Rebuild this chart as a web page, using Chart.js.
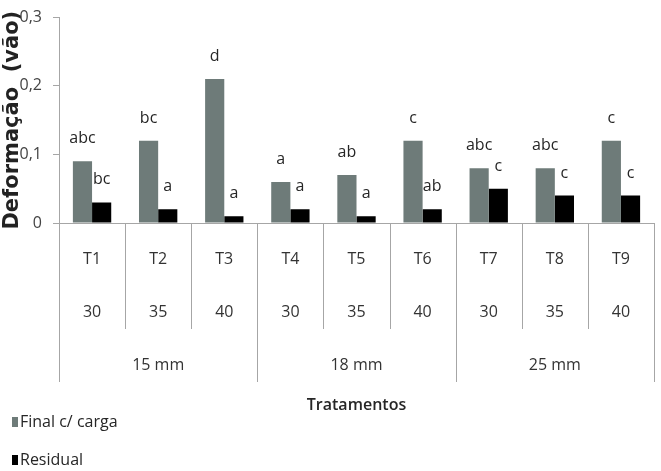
<!DOCTYPE html>
<html>
<head>
<meta charset="utf-8">
<script src="https://cdn.jsdelivr.net/npm/chart.js@4.4.1/dist/chart.umd.min.js"></script>
<style>
  html, body { margin: 0; padding: 0; background: #fff; }
</style>
</head>
<body>
<canvas id="chart" width="661" height="471"></canvas>
<script>
const treatments = ["T1", "T2", "T3", "T4", "T5", "T6", "T7", "T8", "T9"];
const spans = ["30", "35", "40", "30", "35", "40", "30", "35", "40"];
const sizes = ["", "15 mm", "", "", "18 mm", "", "", "25 mm", ""];
const groupStarts = [0, 3, 6, 9];

const finalLoad = [0.09, 0.12, 0.21, 0.06, 0.07, 0.12, 0.08, 0.08, 0.12];
const residual = [0.03, 0.02, 0.01, 0.02, 0.01, 0.02, 0.05, 0.04, 0.04];
const finalLetters = ["abc", "bc", "d", "a", "ab", "c", "abc", "abc", "c"];
const residualLetters = ["bc", "a", "a", "a", "a", "ab", "c", "c", "c"];

const FONT = "'Open Sans', 'Noto Sans', sans-serif";
const LINE = "#a6a6a6";

// table lines under the axis, letters over bars, legend at bottom-left
const extras = {
  id: "extras",
  afterDraw(chart) {
    const ctx = chart.ctx;
    const xs = chart.scales.x;
    ctx.save();

    ctx.strokeStyle = LINE;
    ctx.lineWidth = 1;
    for (let i = 0; i <= treatments.length; i++) {
      const px = Math.round(xs.getPixelForValue(i - 0.5)) + 0.5;
      const len = groupStarts.includes(i) ? 159 : 106;
      ctx.beginPath();
      ctx.moveTo(px, xs.top);
      ctx.lineTo(px, xs.top + len);
      ctx.stroke();
    }

    ctx.font = "16px " + FONT;
    ctx.fillStyle = "#262626";
    ctx.textAlign = "center";
    ctx.textBaseline = "alphabetic";
    chart.data.datasets.forEach((ds, d) => {
      chart.getDatasetMeta(d).data.forEach((bar, j) => {
        ctx.fillText(ds.letters[j], bar.x, bar.y - 18);
      });
    });

    ctx.textAlign = "left";
    ctx.textBaseline = "middle";
    ctx.font = "16px " + FONT;
    const rows = [422, 460];
    chart.data.datasets.forEach((ds, d) => {
      ctx.fillStyle = ds.backgroundColor;
      ctx.fillRect(12, rows[d] - 5, 6, 10);
      ctx.fillStyle = "#262626";
      ctx.fillText(ds.label, 20, rows[d]);
    });
    ctx.restore();
  }
};

new Chart(document.getElementById("chart"), {
  type: "bar",
  data: {
    labels: treatments.map((t, i) => [t, spans[i], sizes[i]]),
    datasets: [
      { label: "Final c/ carga", data: finalLoad, backgroundColor: "#6e7b79", letters: finalLetters },
      { label: "Residual", data: residual, backgroundColor: "#000000", letters: residualLetters }
    ]
  },
  options: {
    responsive: false,
    animation: false,
    layout: { padding: { top: 8, right: 7, bottom: 0, left: 0 } },
    datasets: { bar: { categoryPercentage: 0.58, barPercentage: 1 } },
    plugins: {
      legend: { display: false },
      tooltip: { enabled: false }
    },
    scales: {
      x: {
        ticks: {
          autoSkip: false,
          maxRotation: 0,
          padding: 10,
          color: "#333",
          font: { family: FONT, size: 16, lineHeight: 53 / 16 }
        },
        grid: { drawOnChartArea: false, drawTicks: false },
        border: { color: LINE, width: 1 },
        title: {
          display: true,
          text: "Tratamentos",
          color: "#262626",
          font: { family: FONT, size: 16, weight: "600" },
          padding: { top: 0, bottom: 56 }
        },
        afterFit(scale) { scale.height = 248; }
      },
      y: {
        min: 0,
        max: 0.3,
        ticks: {
          stepSize: 0.1,
          padding: 11,
          color: "#444",
          font: { family: FONT, size: 16, lineHeight: 0.8 },
          callback: v => v === 0 ? "0" : v.toFixed(1).replace(".", ",")
        },
        grid: { drawOnChartArea: false, tickLength: 6, color: LINE },
        border: { color: LINE, width: 1 },
        title: {
          display: true,
          text: "Deformação  (vão)",
          color: "#222",
          font: { family: "'DejaVu Sans', sans-serif", size: 21, weight: "bold", lineHeight: 1 },
          padding: { top: 2, bottom: 0 }
        },
        afterFit(scale) { scale.width = 59; }
      }
    }
  },
  plugins: [extras]
});
</script>
</body>
</html>
